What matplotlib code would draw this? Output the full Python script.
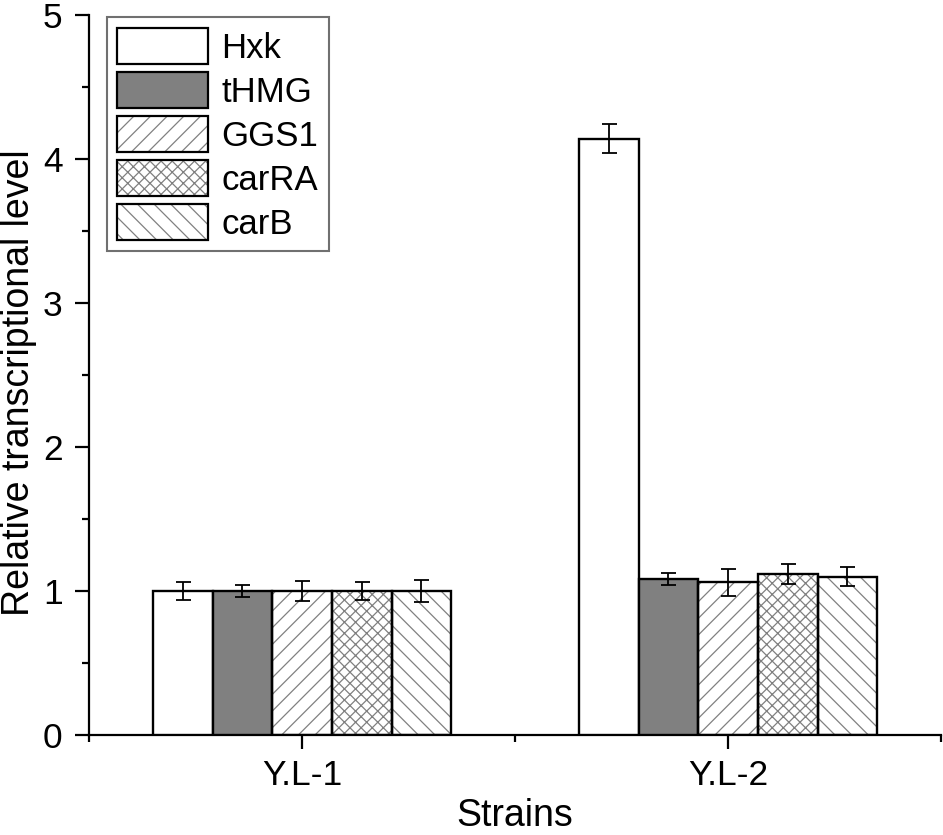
import numpy as np
import matplotlib
matplotlib.use("Agg")
import matplotlib.pyplot as plt
from matplotlib.ticker import MultipleLocator, FixedLocator

plt.rcParams['font.family'] = ['Liberation Sans', 'DejaVu Sans']
plt.rcParams['hatch.linewidth'] = 0.9

# data
strains = ["Y.L-1", "Y.L-2"]
genes = ["Hxk", "tHMG", "GGS1", "carRA", "carB"]
values = {
    "Hxk":   [1.00, 4.14],
    "tHMG":  [1.00, 1.085],
    "GGS1":  [1.00, 1.06],
    "carRA": [1.00, 1.12],
    "carB":  [1.00, 1.10],
}
errors = {
    "Hxk":   [0.06, 0.10],
    "tHMG":  [0.045, 0.04],
    "GGS1":  [0.07, 0.095],
    "carRA": [0.06, 0.07],
    "carB":  [0.075, 0.065],
}
fills = {"Hxk": "white", "tHMG": "#808080", "GGS1": "white", "carRA": "white", "carB": "white"}
hatches = {"Hxk": None, "tHMG": None, "GGS1": "//", "carRA": "xxx", "carB": "\\\\"}

fig = plt.figure(figsize=(9.43, 8.35), dpi=100)
ax = fig.add_axes([0.0944, 0.1198, 0.9036, 0.8622])

x = np.arange(1, len(strains) + 1)
width = 0.14
handles = []
for i, g in enumerate(genes):
    pos = x + (i - 2) * width
    # hatch layer in grey, then black outline on top
    if hatches[g]:
        ax.bar(pos, values[g], width, color=fills[g], edgecolor="#808080",
               hatch=hatches[g], linewidth=0, zorder=2)
    ax.bar(pos, values[g], width, color=fills[g] if not hatches[g] else "none",
           edgecolor="black", linewidth=1.7, zorder=3)
    eb = ax.errorbar(pos, values[g], yerr=errors[g], fmt="none", ecolor="black",
                     elinewidth=1.3, capsize=5.4, capthick=1.3, zorder=4)
    for cap in eb[1]:
        cap.set_color("#6e6e6e")
    back = plt.Rectangle((0, 0), 1, 1, facecolor=fills[g], edgecolor="#808080",
                         linewidth=0, hatch=hatches[g])
    edge = plt.Rectangle((0, 0), 1, 1, facecolor="none", edgecolor="black", linewidth=1.6)
    handles.append((back, edge))

ax.set_xlim(0.5, 2.5)
ax.set_ylim(0, 5)
ax.set_xticks(x)
ax.set_xticklabels(strains)
ax.xaxis.set_minor_locator(FixedLocator([0.5, 1.5, 2.5]))
ax.yaxis.set_major_locator(MultipleLocator(1))
ax.yaxis.set_minor_locator(MultipleLocator(0.5))

for s in ["top", "right"]:
    ax.spines[s].set_visible(False)
for s in ["left", "bottom"]:
    ax.spines[s].set_linewidth(1.6)

ax.tick_params(which="major", direction="out", length=10, width=1.6, labelsize=25.5)
ax.tick_params(axis="y", which="major", pad=9)
ax.tick_params(axis="x", which="major", pad=7)
ax.tick_params(which="minor", direction="out", length=5, width=1.6)

ax.set_xlabel("Strains", fontsize=27)
ax.set_ylabel("Relative transcriptional level", fontsize=27)
ax.xaxis.set_label_coords(0.499, -0.088)
ax.yaxis.set_label_coords(-0.061, 0.49)

leg = ax.legend(handles, genes, loc="upper left", bbox_to_anchor=(0.021, 0.997),
                borderaxespad=0, fontsize=25, handlelength=2.6, handleheight=1.25,
                labelspacing=0.2, handletextpad=0.4, borderpad=0.3,
                fancybox=False, framealpha=1, edgecolor="#707070")
leg.get_frame().set_linewidth(1.5)

fig.savefig("out.png", dpi=100)
